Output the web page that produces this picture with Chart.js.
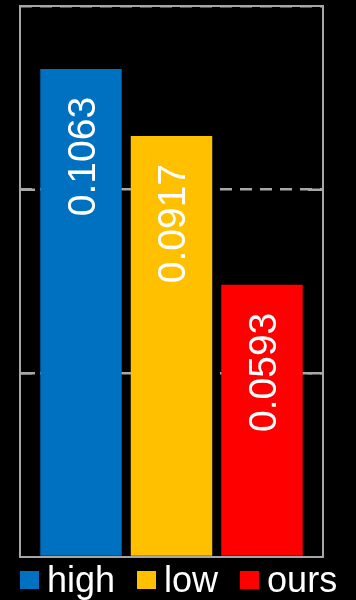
<!DOCTYPE html>
<html>
<head>
<meta charset="utf-8">
<script src="https://cdn.jsdelivr.net/npm/chart.js@4.4.1/dist/chart.umd.min.js"></script>
<style>
  html, body { margin: 0; padding: 0; background: #000; }
  #wrap { position: relative; width: 356px; height: 600px; background: #000; }
  canvas { display: block; }
  #legend {
    position: absolute; left: 20px; top: 562px;
    display: flex; align-items: center; white-space: nowrap;
    font-family: "Liberation Sans", Arial, sans-serif; font-size: 36px; line-height: 36px;
    color: #fff;
  }
  .item { display: flex; align-items: center; margin-right: 22px; }
  .box { width: 19px; height: 18px; margin-right: 8px; }
</style>
</head>
<body>
<div id="wrap">
  <canvas id="c" width="356" height="600"></canvas>
  <div id="legend"></div>
</div>
<script>
// ---- data ----
const categories = [''];
const seriesNames = ['high', 'low', 'ours'];
const seriesValues = [0.1063, 0.0917, 0.0593];
const yTicks = [0, 0.04, 0.08, 0.12];

// ---- styles ----
const seriesColors = ['#0070C0', '#FFC000', '#FF0000'];
const frameColor = '#a6a6a6';
const gridColor = '#a8a8a8';

const frameAndTicks = {
  id: 'frameAndTicks',
  beforeDatasetsDraw(chart) {
    const { ctx, chartArea: a, scales: { y } } = chart;
    ctx.save();
    ctx.strokeStyle = gridColor;
    ctx.lineWidth = 2.5;
    y.ticks.forEach(t => {
      if (t.value === 0 || t.value === y.max) return;
      const py = y.getPixelForValue(t.value);
      ctx.beginPath();
      ctx.moveTo(a.left, py); ctx.lineTo(a.left + 15, py);
      ctx.moveTo(a.right - 15, py); ctx.lineTo(a.right, py);
      ctx.stroke();
    });
    ctx.restore();
  },
  afterDraw(chart) {
    const { ctx, chartArea: a } = chart;
    ctx.save();
    ctx.strokeStyle = frameColor;
    ctx.lineWidth = 2;
    ctx.strokeRect(a.left, a.top, a.right - a.left, a.bottom - a.top);
    ctx.restore();
  }
};

const valueLabels = {
  id: 'valueLabels',
  afterDatasetsDraw(chart) {
    const { ctx } = chart;
    const fs = 39;
    ctx.save();
    ctx.fillStyle = '#fff';
    ctx.font = fs + 'px "Liberation Sans", Arial, sans-serif';
    ctx.textAlign = 'right';
    ctx.textBaseline = 'alphabetic';
    chart.data.datasets.forEach((ds, i) => {
      const meta = chart.getDatasetMeta(i);
      meta.data.forEach((el, j) => {
        const v = ds.data[j];
        ctx.save();
        ctx.translate(el.x, el.y + 28);
        ctx.rotate(-Math.PI / 2);
        ctx.fillText(v.toFixed(4), 0, fs * 0.716 / 2);
        ctx.restore();
      });
    });
    ctx.restore();
  }
};

new Chart(document.getElementById('c'), {
  type: 'bar',
  data: {
    labels: categories,
    datasets: seriesNames.map((name, i) => ({
      label: name,
      data: [seriesValues[i]],
      backgroundColor: seriesColors[i],
      borderWidth: 0,
      categoryPercentage: 0.896,
      barPercentage: 0.9
    }))
  },
  options: {
    responsive: false,
    animation: false,
    devicePixelRatio: 1,
    layout: { padding: { left: 20, right: 33, top: 6, bottom: 43 } },
    plugins: { legend: { display: false }, tooltip: { enabled: false } },
    scales: {
      x: { display: false },
      y: {
        display: true,
        min: 0, max: 0.12,
        afterBuildTicks: axis => { axis.ticks = yTicks.map(v => ({ value: v })); },
        ticks: { display: false },
        grid: {
          drawTicks: false,
          lineWidth: 2.5,
          color: ctx => (ctx.tick && ctx.tick.value === 0) ? 'rgba(0,0,0,0)' : gridColor
        },
        border: { display: false, dash: [12, 8], dashOffset: 0 }
      }
    }
  },
  plugins: [frameAndTicks, valueLabels]
});

// HTML legend built from the series arrays
const legend = document.getElementById('legend');
seriesNames.forEach((name, i) => {
  const it = document.createElement('div');
  it.className = 'item';
  const b = document.createElement('div');
  b.className = 'box';
  b.style.background = seriesColors[i];
  const t = document.createElement('span');
  t.textContent = name;
  it.appendChild(b); it.appendChild(t);
  legend.appendChild(it);
});
</script>
</body>
</html>
